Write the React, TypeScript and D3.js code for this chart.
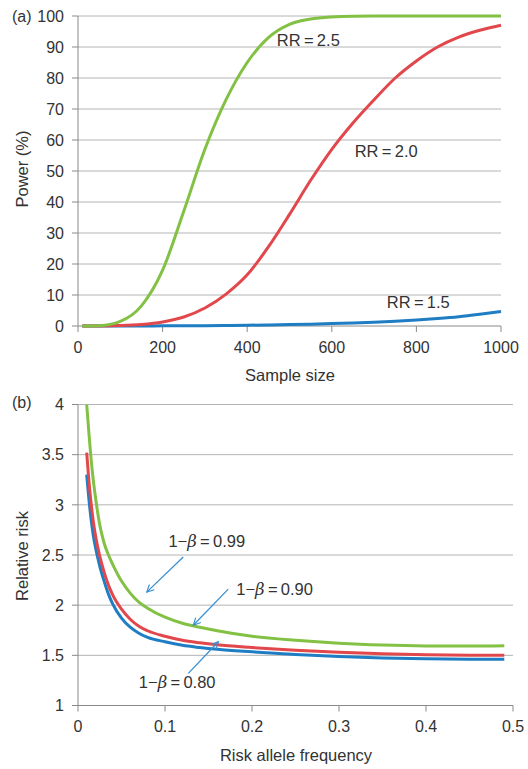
import React from "react";
import * as d3 from "d3";

// ---------- Panel (a) data ----------
const sampleSizes = [10, 50, 100, 150, 200, 250, 300, 350, 400, 450, 500, 550, 600, 650, 700, 750, 800, 850, 900, 950, 1000];
const powerRR25 = [0, 0.1, 1.5, 6.5, 18, 37, 57, 73, 85, 93, 97.3, 99, 99.7, 99.95, 100, 100, 100, 100, 100, 100, 100];
const powerRR20 = [0, 0.02, 0.15, 0.5, 1.3, 2.9, 5.8, 10.3, 16.5, 25.5, 36, 47, 57, 65.5, 73, 80, 85.5, 90, 93.2, 95.4, 97];
const powerRR15 = [0, 0, 0, 0.02, 0.05, 0.08, 0.12, 0.18, 0.25, 0.35, 0.46, 0.6, 0.77, 0.97, 1.22, 1.52, 1.9, 2.4, 3.0, 3.8, 4.7];
const powerTicksX = [0, 200, 400, 600, 800, 1000];
const powerTicksY = [0, 10, 20, 30, 40, 50, 60, 70, 80, 90, 100];
const rrLabels = [
  { text: "RR\u2009=\u20092.5", n: 470, p: 90.4 },
  { text: "RR\u2009=\u20092.0", n: 654, p: 54.6 },
  { text: "RR\u2009=\u20091.5", n: 730, p: 5.9 },
];

// ---------- Panel (b) data ----------
const alleleFreq = [0.01, 0.0125, 0.015, 0.0175, 0.02, 0.025, 0.03, 0.035, 0.04, 0.05, 0.06, 0.07, 0.08, 0.1, 0.12, 0.14, 0.16, 0.2, 0.25, 0.3, 0.35, 0.4, 0.45, 0.49];
const rrPower99 = [4.0, 3.72, 3.46, 3.25, 3.08, 2.8, 2.62, 2.5, 2.405, 2.24, 2.12, 2.03, 1.97, 1.88, 1.82, 1.78, 1.745, 1.69, 1.65, 1.621, 1.603, 1.594, 1.592, 1.596];
const rrPower90 = [3.52, 3.24, 3.02, 2.84, 2.7, 2.49, 2.33, 2.2, 2.1, 1.96, 1.86, 1.79, 1.745, 1.69, 1.65, 1.625, 1.605, 1.578, 1.55, 1.53, 1.515, 1.506, 1.501, 1.5];
const rrPower80 = [3.3, 3.06, 2.86, 2.7, 2.58, 2.39, 2.24, 2.11, 2.01, 1.87, 1.78, 1.72, 1.68, 1.635, 1.6, 1.578, 1.56, 1.535, 1.508, 1.488, 1.473, 1.465, 1.461, 1.46];
const freqTicksX = [0, 0.1, 0.2, 0.3, 0.4, 0.5];
const rrTicksY = [1, 1.5, 2, 2.5, 3, 3.5, 4];
const betaNotes = [
  { value: "0.99", lx: 0.148, ly: 2.64, x1: 0.121, y1: 2.48, x2: 0.079, y2: 2.13 },
  { value: "0.90", lx: 0.226, ly: 2.16, x1: 0.1727, y1: 2.16, x2: 0.1325, y2: 1.8 },
  { value: "0.80", lx: 0.114, ly: 1.234, x1: 0.1268, y1: 1.32, x2: 0.1613, y2: 1.636 },
];

const GREEN = "#82c143";
const RED = "#e2474b";
const BLUE = "#1f7dc3";
const ARROW = "#3a90d2";
const TEXT = "#333333";
const GRID = "#b4b4b4";
const AXIS = "#8a8a8a";
const FONT = "'Liberation Sans', Arial, Helvetica, sans-serif";

export default function App() {
  const xA = d3.scaleLinear().domain([0, 1000]).range([78, 501]);
  const yA = d3.scaleLinear().domain([0, 100]).range([326, 16]);
  const xB = d3.scaleLinear().domain([0, 0.5]).range([78, 513]);
  const yB = d3.scaleLinear().domain([1, 4]).range([705.5, 404.5]);

  const lineA = d3
    .line<number>()
    .x((_, i) => xA(sampleSizes[i]))
    .y((d) => yA(d))
    .curve(d3.curveMonotoneX);
  const lineB = d3
    .line<number>()
    .x((_, i) => xB(alleleFreq[i]))
    .y((d) => yB(d))
    .curve(d3.curveMonotoneX);

  const fs = 16;

  return (
    <svg
      width={528}
      height={769}
      style={{ position: "absolute", left: 0, top: 0, display: "block", background: "#fff" }}
      fontFamily={FONT}
    >
      <defs>
        <marker id="arr" viewBox="0 0 10 10" refX="9" refY="5" markerWidth="9" markerHeight="9" orient="auto" markerUnits="userSpaceOnUse">
          <path d="M1,1 L9,5 L1,9" fill="none" stroke={ARROW} strokeWidth={1.3} />
        </marker>
      </defs>

      {/* ---------- Panel (a) ---------- */}
      <g>
        {powerTicksY.filter((t) => t > 0).map((t) => (
          <line key={"ga" + t} x1={xA(0)} x2={xA(1000)} y1={yA(t)} y2={yA(t)} stroke={GRID} strokeWidth={1} />
        ))}
        <line x1={xA(0)} x2={xA(0)} y1={yA(0)} y2={yA(100)} stroke={AXIS} strokeWidth={1} />
        <line x1={xA(0)} x2={xA(1000)} y1={yA(0)} y2={yA(0)} stroke={AXIS} strokeWidth={1} />
        {powerTicksY.map((t) => (
          <g key={"ya" + t}>
            <line x1={xA(0) - 6} x2={xA(0)} y1={yA(t)} y2={yA(t)} stroke={AXIS} />
            <text x={64} y={yA(t)} dy="0.36em" textAnchor="end" fontSize={fs} fill={TEXT}>{t}</text>
          </g>
        ))}
        {powerTicksX.map((t) => (
          <g key={"xa" + t}>
            <line x1={xA(t)} x2={xA(t)} y1={yA(0)} y2={yA(0) + 6} stroke={AXIS} />
            <text x={xA(t)} y={353} textAnchor="middle" fontSize={fs} fill={TEXT}>{t}</text>
          </g>
        ))}
        <text x={290} y={381} textAnchor="middle" fontSize={16.5} fill={TEXT}>Sample size</text>
        <text transform={`translate(28,${169}) rotate(-90)`} textAnchor="middle" fontSize={16.5} fill={TEXT}>Power (%)</text>
        <text x={12} y={22} fontSize={16} fill={TEXT}>(a)</text>

        <path d={lineA(powerRR15) || ""} fill="none" stroke={BLUE} strokeWidth={3} />
        <path d={lineA(powerRR20) || ""} fill="none" stroke={RED} strokeWidth={3} />
        <path d={lineA(powerRR25) || ""} fill="none" stroke={GREEN} strokeWidth={3} />

        {rrLabels.map((l) => (
          <text key={l.text} x={xA(l.n)} y={yA(l.p)} fontSize={16.5} fill={TEXT}>{l.text}</text>
        ))}
      </g>

      {/* ---------- Panel (b) ---------- */}
      <g>
        {rrTicksY.filter((t) => t > 1).map((t) => (
          <line key={"gb" + t} x1={xB(0)} x2={xB(0.5)} y1={yB(t)} y2={yB(t)} stroke={GRID} strokeWidth={1} />
        ))}
        <line x1={xB(0)} x2={xB(0)} y1={yB(1)} y2={yB(4)} stroke={AXIS} strokeWidth={1} />
        <line x1={xB(0)} x2={xB(0.5)} y1={yB(1)} y2={yB(1)} stroke={AXIS} strokeWidth={1} />
        {rrTicksY.map((t) => (
          <g key={"yb" + t}>
            <line x1={xB(0) - 6} x2={xB(0)} y1={yB(t)} y2={yB(t)} stroke={AXIS} />
            <text x={64} y={yB(t)} dy="0.36em" textAnchor="end" fontSize={fs} fill={TEXT}>{t}</text>
          </g>
        ))}
        {freqTicksX.map((t) => (
          <g key={"xb" + t}>
            <line x1={xB(t)} x2={xB(t)} y1={yB(1)} y2={yB(1) + 6} stroke={AXIS} />
            <text x={xB(t)} y={732} textAnchor="middle" fontSize={fs} fill={TEXT}>{t}</text>
          </g>
        ))}
        <text x={296} y={761} textAnchor="middle" fontSize={16.5} fill={TEXT}>Risk allele frequency</text>
        <text transform={`translate(28,${556}) rotate(-90)`} textAnchor="middle" fontSize={16.5} fill={TEXT}>Relative risk</text>
        <text x={12} y={408} fontSize={16} fill={TEXT}>(b)</text>

        <path d={lineB(rrPower80) || ""} fill="none" stroke={BLUE} strokeWidth={3} />
        <path d={lineB(rrPower90) || ""} fill="none" stroke={RED} strokeWidth={3} />
        <path d={lineB(rrPower99) || ""} fill="none" stroke={GREEN} strokeWidth={3} />

        {betaNotes.map((n) => (
          <g key={n.value}>
            <line x1={xB(n.x1)} y1={yB(n.y1)} x2={xB(n.x2)} y2={yB(n.y2)} stroke={ARROW} strokeWidth={1.3} markerEnd="url(#arr)" />
            <text x={xB(n.lx)} y={yB(n.ly)} dy="0.36em" textAnchor="middle" fontSize={16.5} fill={TEXT}>
              1{"\u2212"}
              <tspan fontStyle="italic" fontFamily="'DejaVu Serif', 'Liberation Serif', serif">β</tspan>
              {"\u2009=\u2009"}{n.value}
            </text>
          </g>
        ))}
      </g>
    </svg>
  );
}
